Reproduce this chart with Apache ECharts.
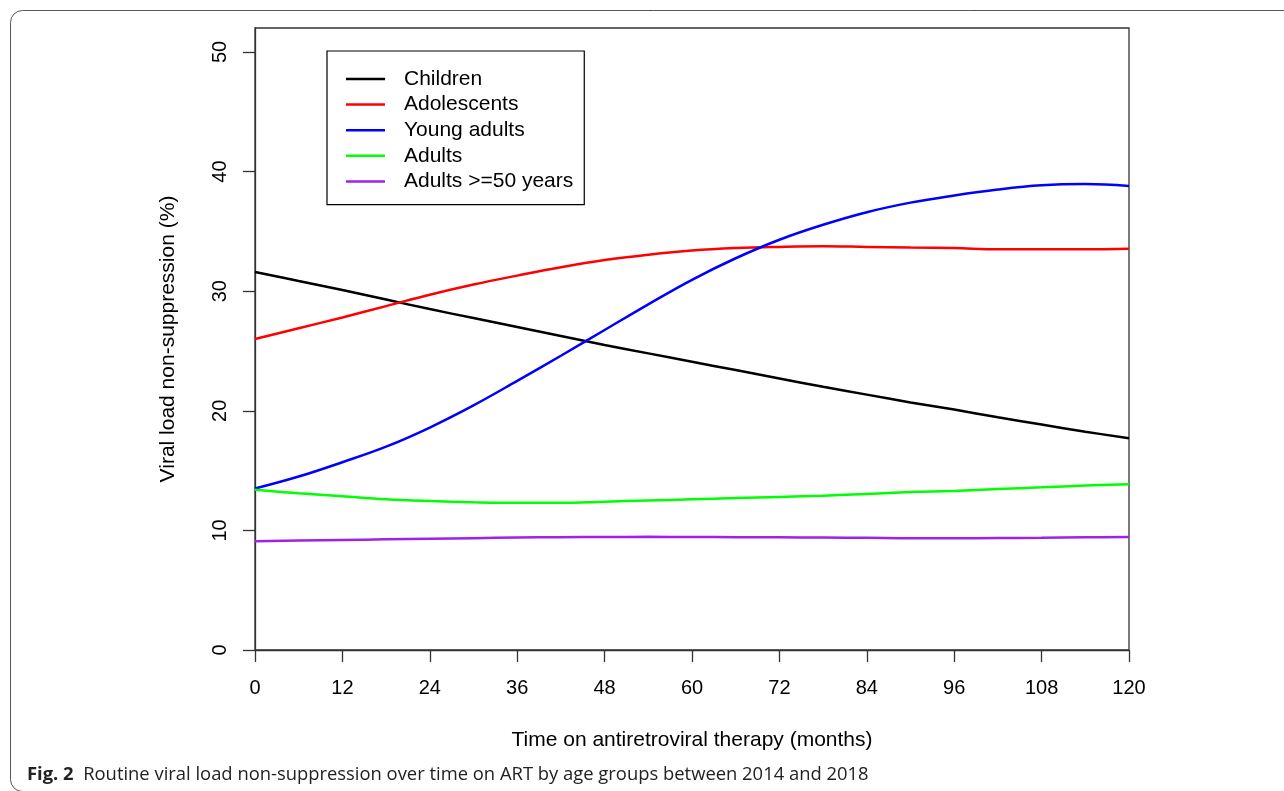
<!DOCTYPE html>
<html>
<head>
<meta charset="utf-8">
<script src="https://cdn.jsdelivr.net/npm/echarts@6/dist/echarts.min.js"></script>
<style>html,body{margin:0;padding:0;background:#fff;}#c{width:1284px;height:791px;}</style>
</head>
<body>
<div id="c"></div>
<script>
var months = [0,6,12,18,24,30,36,42,48,54,60,66,72,78,84,90,96,102,108,114,120];
var children = [31.6,30.85,30.1,29.3,28.5,27.75,27.0,26.25,25.5,24.8,24.1,23.4,22.7,22.0,21.35,20.7,20.1,19.45,18.85,18.25,17.7];
var adolescents = [26.0,26.9,27.8,28.75,29.7,30.55,31.3,32.0,32.6,33.05,33.4,33.6,33.7,33.75,33.7,33.65,33.6,33.5,33.5,33.5,33.55];
var youngAdults = [13.5,14.5,15.7,17.0,18.6,20.45,22.5,24.6,26.75,28.9,30.95,32.75,34.3,35.55,36.6,37.4,38.0,38.5,38.85,38.95,38.8];
var adults = [13.4,13.1,12.85,12.6,12.45,12.35,12.3,12.3,12.4,12.5,12.6,12.7,12.8,12.9,13.05,13.2,13.3,13.45,13.6,13.75,13.85];
var adults50 = [9.1,9.15,9.2,9.25,9.3,9.35,9.4,9.43,9.45,9.46,9.45,9.43,9.42,9.4,9.38,9.35,9.35,9.36,9.38,9.42,9.45];
var xTicks = [0,12,24,36,48,60,72,84,96,108,120];
var yTicks = [0,10,20,30,40,50];
var seriesNames = ['Children','Adolescents','Young adults','Adults','Adults >=50 years'];
var seriesColors = ['#000000','#ff0000','#0000ff','#00ff00','#a020f0'];
var seriesValues = [children, adolescents, youngAdults, adults, adults50];

function pairs(vals){ return months.map(function(m,i){ return [m, vals[i]]; }); }

var chart = echarts.init(document.getElementById('c'), null, {renderer:'canvas'});
var FONT = 'Liberation Sans, Arial, sans-serif';
chart.setOption({
  animation: false,
  backgroundColor: '#ffffff',
  grid: {left: 255, top: 28, right: 155, bottom: 141, show: true, borderColor: '#333', borderWidth: 1.3, backgroundColor: 'transparent'},
  xAxis: {
    type: 'value', min: 0, max: 120, interval: 12,
    axisLine: {show: true, lineStyle: {color: '#333', width: 1.3}},
    axisTick: {show: true, length: 12, lineStyle: {color: '#333', width: 1.3}, customValues: xTicks},
    axisLabel: {color: '#000', fontSize: 20, fontFamily: FONT, margin: 28, customValues: xTicks},
    splitLine: {show: false},
    name: 'Time on antiretroviral therapy (months)', nameLocation: 'middle', nameGap: 80,
    nameTextStyle: {color: '#000', fontSize: 21, fontFamily: FONT}
  },
  yAxis: {
    type: 'value', min: 0, max: 52, interval: 10,
    axisLine: {show: true, lineStyle: {color: '#333', width: 1.3}},
    axisTick: {show: true, length: 12, lineStyle: {color: '#333', width: 1.3}, customValues: yTicks},
    axisLabel: {color: '#000', fontSize: 20, fontFamily: FONT, margin: 25, rotate: 90, customValues: yTicks},
    splitLine: {show: false},
    name: 'Viral load non-suppression (%)', nameLocation: 'middle', nameGap: 76,
    nameTextStyle: {color: '#000', fontSize: 21, fontFamily: FONT}
  },
  legend: {
    orient: 'vertical', left: 327, top: 51,
    data: seriesNames,
    icon: 'rect',
    itemWidth: 39, itemHeight: 2.5, itemGap: 4.6,
    padding: [17.5, 11, 12.7, 19],
    borderColor: '#000', borderWidth: 1.2, backgroundColor: '#fff',
    textStyle: {color: '#000', fontSize: 21, fontFamily: FONT, padding: [0,0,0,14]}
  },
  series: seriesNames.map(function(n, i){
    return {
      name: n, type: 'line', data: pairs(seriesValues[i]),
      smooth: 0.4, symbol: 'none', showSymbol: false,
      lineStyle: {color: seriesColors[i], width: 2.5},
      itemStyle: {color: seriesColors[i]},
      z: 2
    };
  }),
  graphic: [
    {type: 'rect', shape: {x: 10.5, y: 10.5, width: 1300, height: 781, r: 12}, style: {fill: 'none', stroke: '#555', lineWidth: 1}, silent: true, z: -1},
    {type: 'text', left: 27, top: 766, style: {
      text: '{b|Fig. 2}  Routine viral load non-suppression over time on ART by age groups between 2014 and 2018',
      fontSize: 18.4, fontFamily: 'Open Sans, sans-serif', fill: '#222',
      rich: {b: {fontSize: 18.4, fontWeight: 'bold', fontFamily: 'Open Sans, sans-serif', fill: '#222'}}
    }}
  ]
});
</script>
</body>
</html>
